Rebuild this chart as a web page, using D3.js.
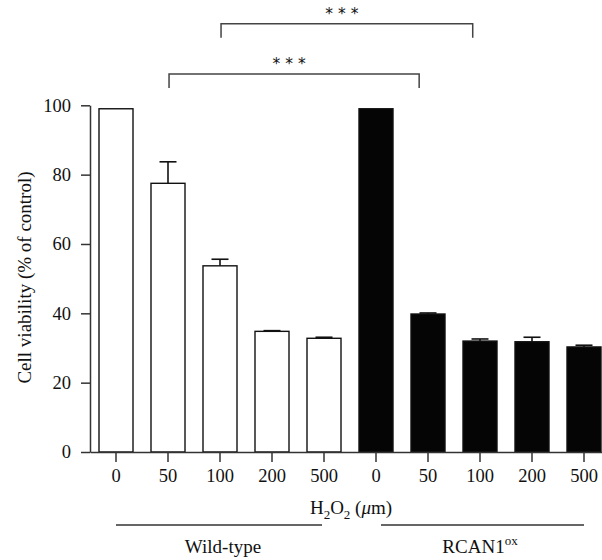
<!DOCTYPE html>
<html>
<head>
<meta charset="utf-8">
<script src="https://cdn.jsdelivr.net/npm/d3@7"></script>
<style>
  body { margin: 0; background: #fff; }
  svg { display: block; }
  text { font-family: "Liberation Serif", "Times New Roman", "DejaVu Serif", serif; fill: #111; }
</style>
</head>
<body>
<svg id="chart" width="602" height="560"></svg>
<script>
// doses on the x axis (both groups use the same ones)
const doses = ["0", "50", "100", "200", "500", "0", "50", "100", "200", "500"];
const groups = ["Wild-type", "RCAN1"];
// mean cell viability and SEM
const wtMean = [99, 77.5, 53.7, 34.8, 32.8];
const wtErr = [0, 6.2, 1.9, 0.2, 0.3];
const oxMean = [99, 39.8, 32.0, 31.8, 30.3];
const oxErr = [0, 0.3, 0.6, 1.3, 0.5];
const yTicks = [0, 20, 40, 60, 80, 100];
// significance brackets (positions in bar index units, heights in % units)
const brackets = [
  { from: 2.02, to: 6.86, top: 123.5, foot: 119.5, star: 127.6 },
  { from: 1.02, to: 5.83, top: 109, foot: 105, star: 113.2 }
];

const bars = wtMean.map((v, i) => ({ i: i, mean: v, err: wtErr[i], black: false }))
  .concat(oxMean.map((v, i) => ({ i: i + 5, mean: v, err: oxErr[i], black: true })));

const serif = '"Liberation Serif", "Times New Roman", "DejaVu Serif", serif';
const svg = d3.select("#chart");

const x = d3.scaleBand().domain(d3.range(doses.length))
  .range([90, 610]).paddingInner(0.346).paddingOuter(0.173);
const y = d3.scaleLinear().domain([0, 100]).range([452, 105.3]);
const xi = d3.scaleLinear().domain([0, doses.length - 1])
  .range([x(0) + x.bandwidth() / 2, x(doses.length - 1) + x.bandwidth() / 2]);

// bars
svg.append("g").selectAll("rect")
  .data(bars)
  .enter()
  .append("rect")
  .attr("x", d => x(d.i))
  .attr("y", d => y(d.mean))
  .attr("width", x.bandwidth())
  .attr("height", d => y(0) - y(d.mean))
  .attr("fill", d => d.black ? "#050505" : "#fff")
  .attr("stroke", "#111")
  .attr("stroke-width", 1.4);

// error bars (upper half only)
const eb = svg.append("g").attr("stroke", "#111").attr("stroke-width", 1.6)
  .selectAll("g").data(bars.filter(d => d.err > 0)).enter().append("g");
eb.append("line")
  .attr("x1", d => x(d.i) + x.bandwidth() / 2)
  .attr("x2", d => x(d.i) + x.bandwidth() / 2)
  .attr("y1", d => y(d.mean))
  .attr("y2", d => y(d.mean + d.err));
eb.append("line")
  .attr("x1", d => x(d.i) + x.bandwidth() / 2 - 8.5)
  .attr("x2", d => x(d.i) + x.bandwidth() / 2 + 8.5)
  .attr("y1", d => y(d.mean + d.err))
  .attr("y2", d => y(d.mean + d.err));

// axes
const gy = svg.append("g").attr("transform", "translate(90,0)")
  .call(d3.axisLeft(y).tickValues(yTicks).tickSize(9).tickSizeOuter(0).tickPadding(10));
const gx = svg.append("g").attr("transform", `translate(0,${y(0)})`)
  .call(d3.axisBottom(x).tickSize(10).tickSizeOuter(0).tickPadding(7).tickFormat(i => doses[i]));
[gx, gy].forEach(g => {
  g.attr("font-family", null);
  g.selectAll("path, line").attr("stroke", "#333").attr("stroke-width", 1.5);
  g.selectAll("text").style("font-size", "18.5px").attr("fill", "#111")
    .style("font-family", serif);
});
gx.selectAll("text").attr("dy", "0.71em");

// y label
svg.append("text")
  .attr("transform", "translate(31,277.5) rotate(-90)")
  .attr("text-anchor", "middle")
  .style("font-size", "19px")
  .text("Cell viability (% of control)");

// x label H2O2 (μm)
const xl = svg.append("text").attr("x", 351).attr("y", 513.5)
  .attr("text-anchor", "middle").style("font-size", "19px");
xl.append("tspan").text("H");
xl.append("tspan").attr("dy", 5).style("font-size", "13px").text("2");
xl.append("tspan").attr("dy", -5).text("O");
xl.append("tspan").attr("dy", 5).style("font-size", "13px").text("2");
xl.append("tspan").attr("dy", -5).text(" (");
xl.append("tspan").style("font-style", "italic").text("μ");
xl.append("tspan").text("m)");

// group lines and labels
const grp = svg.append("g");
grp.selectAll("line").data(groups).enter().append("line")
  .attr("x1", (d, k) => k === 0 ? xi(0) : xi(5) + 5)
  .attr("x2", (d, k) => k === 0 ? xi(4) - 2 : xi(9))
  .attr("y1", 525).attr("y2", 525)
  .attr("stroke", "#333").attr("stroke-width", 1.4);
grp.append("text").attr("x", 223).attr("y", 553).attr("text-anchor", "middle")
  .style("font-size", "19px").text(groups[0]);
const ox = grp.append("text").attr("x", 480).attr("y", 553).attr("text-anchor", "middle")
  .style("font-size", "19px");
ox.append("tspan").text(groups[1]);
ox.append("tspan").attr("dy", -8).style("font-size", "13px").text("ox");

// significance brackets
const br = svg.append("g").selectAll("g").data(brackets).enter().append("g");
br.append("path")
  .attr("d", d => `M${xi(d.from)},${y(d.foot)}V${y(d.top)}H${xi(d.to)}V${y(d.foot)}`)
  .attr("fill", "none").attr("stroke", "#444").attr("stroke-width", 1.5);
br.append("text")
  .attr("x", d => (xi(d.from) + xi(d.to)) / 2 - 5)
  .attr("y", d => y(d.star) + 9)
  .attr("text-anchor", "middle")
  .style("font-family", '"DejaVu Sans", sans-serif')
  .style("font-size", "15.5px").attr("fill", "#333")
  .text("* * *");
</script>
</body>
</html>
